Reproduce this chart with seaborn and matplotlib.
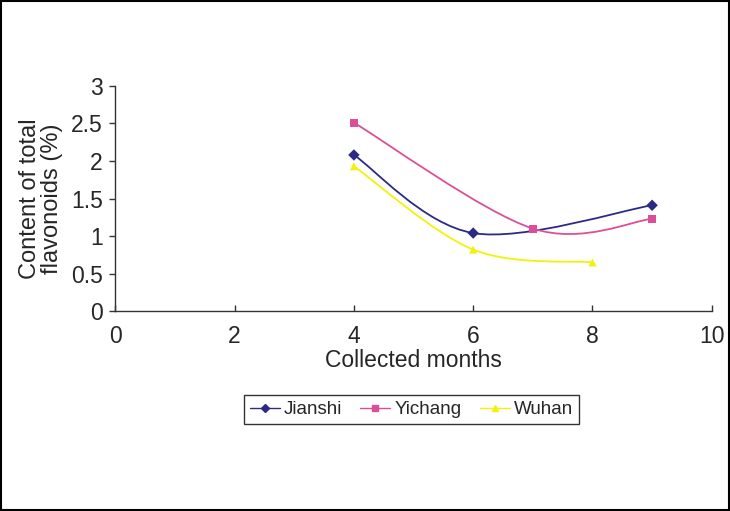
import matplotlib
matplotlib.use("Agg")
import matplotlib.pyplot as plt
from matplotlib.path import Path
from matplotlib.patches import PathPatch, Rectangle
from matplotlib.lines import Line2D
import seaborn as sns
import pandas as pd

# values
sites = ["Jianshi", "Yichang", "Wuhan"]
jianshi_months = [4, 6, 9]
jianshi_values = [2.08, 1.04, 1.41]
yichang_months = [4, 7, 9]
yichang_values = [2.51, 1.10, 1.23]
wuhan_months = [4, 6, 8]
wuhan_values = [1.93, 0.82, 0.65]

colors = {"Jianshi": "#2b2b86", "Yichang": "#dc4f97", "Wuhan": "#f2f20a"}
markers = {"Jianshi": "D", "Yichang": "s", "Wuhan": "^"}

df = pd.concat([
    pd.DataFrame({"month": jianshi_months, "value": jianshi_values, "site": "Jianshi"}),
    pd.DataFrame({"month": yichang_months, "value": yichang_values, "site": "Yichang"}),
    pd.DataFrame({"month": wuhan_months, "value": wuhan_values, "site": "Wuhan"}),
], ignore_index=True)


def smooth_path(xs, ys):
    # Excel-style smoothed line: Catmull-Rom segments as cubic Beziers
    pts = list(zip(xs, ys))
    verts = [pts[0]]
    codes = [Path.MOVETO]
    n = len(pts)
    for i in range(n - 1):
        p0 = pts[i - 1] if i > 0 else pts[i]
        p1 = pts[i]
        p2 = pts[i + 1]
        p3 = pts[i + 2] if i + 2 < n else pts[i + 1]
        c1 = (p1[0] + (p2[0] - p0[0]) / 6, p1[1] + (p2[1] - p0[1]) / 6)
        c2 = (p2[0] - (p3[0] - p1[0]) / 6, p2[1] - (p3[1] - p1[1]) / 6)
        verts += [c1, c2, p2]
        codes += [Path.CURVE4] * 3
    return Path(verts, codes)


sns.set_style("ticks")
plt.rcParams['font.family'] = ['Liberation Sans', 'DejaVu Sans']

fig = plt.figure(figsize=(7.3, 5.11), dpi=100)
ax = fig.add_axes([0.158, 0.391, 0.817, 0.441])

for site in sites:
    sub = df[df["site"] == site]
    ax.add_patch(PathPatch(smooth_path(sub["month"].tolist(), sub["value"].tolist()),
                           facecolor="none", edgecolor=colors[site], lw=1.3, zorder=2))

sns.scatterplot(data=df, x="month", y="value", hue="site", style="site",
                palette=colors, markers=markers, s=34, edgecolor="none",
                legend=False, ax=ax, zorder=3)

ax.set_xlim(0, 10)
ax.set_ylim(0, 3)
ax.set_xticks([0, 2, 4, 6, 8, 10])
ax.set_yticks([0, 0.5, 1, 1.5, 2, 2.5, 3])
ax.set_yticklabels(["0", "0.5", "1", "1.5", "2", "2.5", "3"])
ax.tick_params(labelsize=16.5, width=1, color="#333333")
ax.tick_params(axis="x", direction="in", length=4, pad=10)
ax.tick_params(axis="y", direction="out", length=4, pad=5)
ax.set_xlabel("Collected months", fontsize=16.5, labelpad=1)
ax.set_ylabel("Content of total\nflavonoids (%)", fontsize=17, labelpad=6, linespacing=1.0)
sns.despine(ax=ax)
for s in ["left", "bottom"]:
    ax.spines[s].set_color("#333333")
    ax.spines[s].set_linewidth(1)

handles = [Line2D([], [], color=colors[s], marker=markers[s], markersize=4.5, lw=1.0)
           for s in sites]
leg = fig.legend(handles, sites, loc="center", bbox_to_anchor=(0.5635, 0.1985),
                 ncol=3, fontsize=13.5, frameon=True, fancybox=False,
                 handlelength=1.6, handletextpad=0.2, columnspacing=1.0,
                 borderpad=0.3, borderaxespad=0)
leg.get_frame().set_edgecolor("black")
leg.get_frame().set_linewidth(1)

fig.patches.append(Rectangle((0.001, 0.001), 0.998, 0.998, transform=fig.transFigure,
                             fill=False, edgecolor="black", lw=1.5))

fig.savefig("out.png", dpi=100)
